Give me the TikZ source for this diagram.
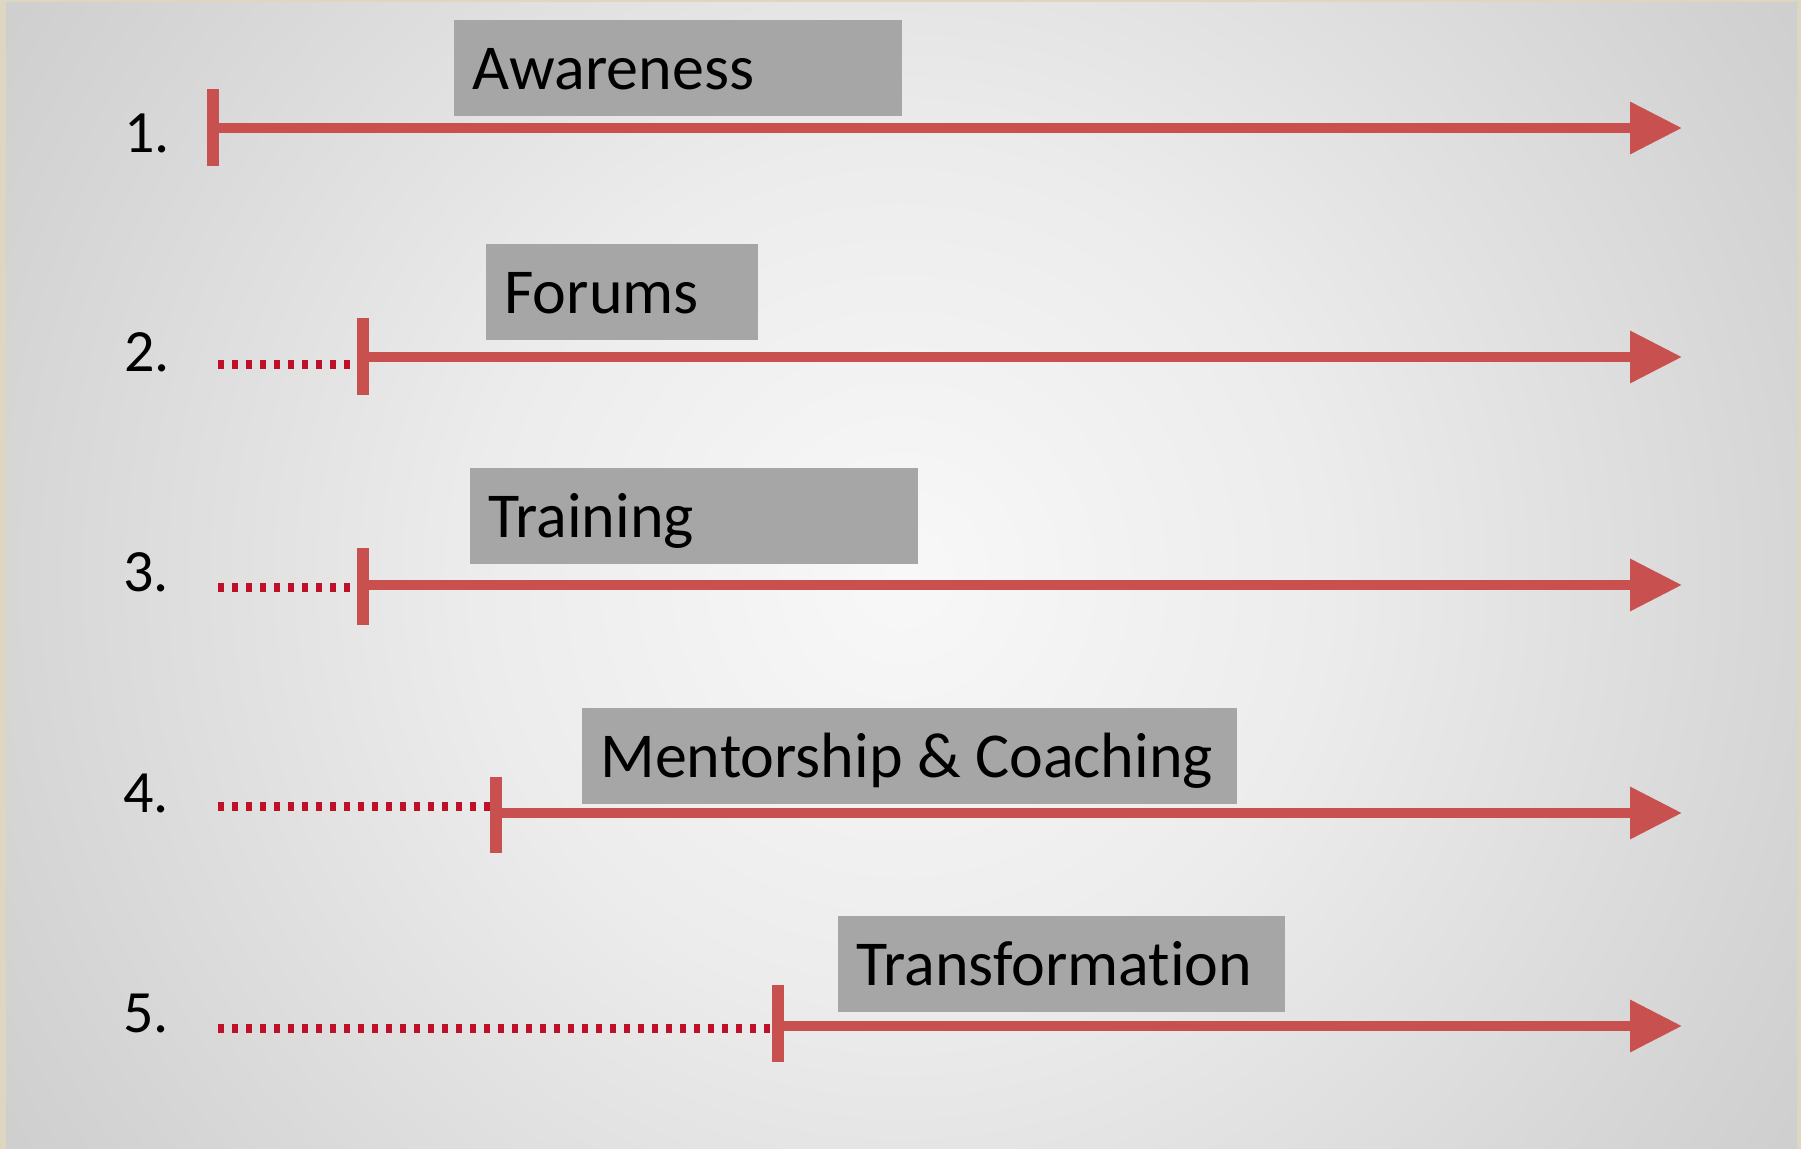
\documentclass[tikz,border=0pt]{standalone}
\usepackage{fontspec}
\setmainfont{Carlito}[Ligatures=NoCommon]
\usetikzlibrary{arrows.meta}
\definecolor{frame}{RGB}{221,214,193}
\definecolor{boxgray}{RGB}{166,166,166}
\definecolor{linered}{RGB}{200,80,78}
\definecolor{dotred}{RGB}{190,16,40}
\definecolor{bgA}{RGB}{248,248,248}
\definecolor{bgB}{RGB}{236,236,236}
\definecolor{bgC}{RGB}{212,212,212}
\definecolor{bgD}{RGB}{186,186,186}
\definecolor{bgE}{RGB}{168,168,168}
\pgfdeclareradialshading{bgshade}{\pgfpoint{0bp}{0bp}}{color(0bp)=(bgA); color(10bp)=(bgB); color(22bp)=(bgC); color(36bp)=(bgD); color(50bp)=(bgE)}
\tikzset{
  mainline/.style={draw=linered, line width=5pt, -{Triangle[length=26pt,width=25pt]}},
  tickbar/.style={draw=linered, line width=6pt},
  dotline/.style={draw=dotred, line width=4.5pt, dash pattern=on 3pt off 4pt},
  numlbl/.style={font=\fontsize{30}{36}\selectfont, inner sep=0pt},
  stage/.style={fill=boxgray, anchor=north west, inner xsep=9pt, inner ysep=0pt,
    minimum height=48pt, text height=21pt, text depth=0pt,
    font=\fontsize{32}{38}\selectfont}
}
\newcommand{\lefttext}[2]{\makebox[#1][l]{#2}}
\begin{document}
\begin{tikzpicture}[x=0.5pt,y=-0.5pt]
\fill[frame] (0,0) rectangle (1801,1149);
\begin{scope}
\clip (6,3) rectangle (1797,1149);
\shade[shading=bgshade] (-162,-487) rectangle (1964,1639);
\end{scope}
\useasboundingbox (0,0) rectangle (1801,1149);

% row 1
\node[numlbl] (n1) at (147,133) {1.};
\coordinate (t1) at (213,128);
\coordinate (t1a) at (213,89);
\coordinate (t1b) at (213,166);
\coordinate (e1) at (1682,128);
\draw[tickbar] (t1a) -- (t1b);
\draw[mainline] (t1) -- (e1);
\node[stage, minimum width=224pt] (b1) at (454,20) {\lefttext{206pt}{Awareness}};

% row 2
\node[numlbl] (n2) at (147,352) {2.};
\coordinate (s2) at (218,365);
\coordinate (d2) at (357,365);
\coordinate (t2) at (363,357);
\coordinate (t2a) at (363,318);
\coordinate (t2b) at (363,395);
\coordinate (e2) at (1682,357);
\draw[dotline] (s2) -- (d2);
\draw[tickbar] (t2a) -- (t2b);
\draw[mainline] (t2) -- (e2);
\node[stage, minimum width=136pt] (b2) at (486,244) {\lefttext{118pt}{Forums}};

% row 3
\node[numlbl] (n3) at (146,572) {3.};
\coordinate (s3) at (218,588);
\coordinate (d3) at (357,588);
\coordinate (t3) at (363,585);
\coordinate (t3a) at (363,548);
\coordinate (t3b) at (363,625);
\coordinate (e3) at (1682,585);
\draw[dotline] (s3) -- (d3);
\draw[tickbar] (t3a) -- (t3b);
\draw[mainline] (t3) -- (e3);
\node[stage, minimum width=224pt] (b3) at (470,468) {\lefttext{206pt}{Training}};

% row 4
\node[numlbl] (n4) at (146,793) {4.};
\coordinate (s4) at (218,807);
\coordinate (d4) at (490,807);
\coordinate (t4) at (496,813);
\coordinate (t4a) at (496,777);
\coordinate (t4b) at (496,853);
\coordinate (e4) at (1682,813);
\draw[dotline] (s4) -- (d4);
\draw[tickbar] (t4a) -- (t4b);
\draw[mainline] (t4) -- (e4);
\node[stage, minimum width=327.5pt] (b4) at (582,708) {\lefttext{309.5pt}{Mentorship \& Coaching}};

% row 5
\node[numlbl] (n5) at (146,1013) {5.};
\coordinate (s5) at (218,1028);
\coordinate (d5) at (772,1028);
\coordinate (t5) at (778,1026);
\coordinate (t5a) at (778,985);
\coordinate (t5b) at (778,1062);
\coordinate (e5) at (1682,1026);
\draw[dotline] (s5) -- (d5);
\draw[tickbar] (t5a) -- (t5b);
\draw[mainline] (t5) -- (e5);
\node[stage, minimum width=223.5pt] (b5) at (838,916) {\lefttext{205.5pt}{Transformation}};
\end{tikzpicture}
\end{document}
